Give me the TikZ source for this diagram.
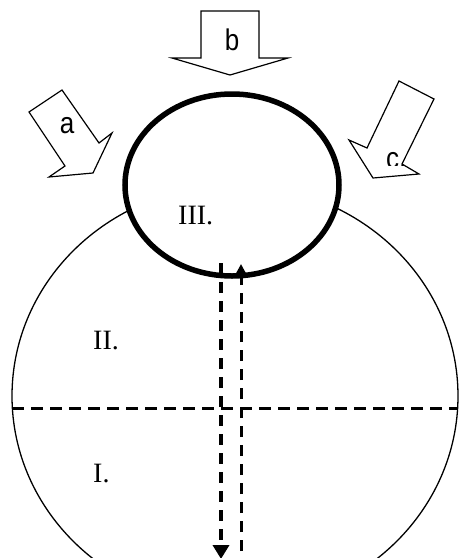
\documentclass[tikz,border=0pt]{standalone}
\usepackage{fontspec}
\setmainfont{Liberation Serif}
\newfontfamily\arialfont{Liberation Sans}
\usetikzlibrary{shapes.geometric,arrows.meta}
\tikzset{
  blockarrow/.style={draw=black, line width=1.2pt, fill=white, line join=miter},
  sflabel/.style={inner sep=0pt, font=\arialfont\fontsize{26}{26}\selectfont},
  rmlabel/.style={inner sep=0pt, anchor=base west, font=\fontsize{28}{28}\selectfont},
  dashline/.style={draw=black, dash pattern=on 11pt off 8pt}
}
\newcommand{\tallsf}[1]{\scalebox{1}[1.15]{#1}}
\begin{document}
\begin{tikzpicture}[x=1pt,y=-1pt]
\useasboundingbox (0,0) rectangle (459,558);
\clip (0,0) rectangle (459,558);
% big outer shape
\node[draw=black, line width=1.3pt, ellipse, minimum width=446pt, minimum height=422pt, inner sep=0pt] (big) at (235,396) {};
% small thick ellipse
\node[draw=black, fill=white, line width=5.5pt, ellipse, minimum width=214pt, minimum height=182pt, inner sep=0pt] (small) at (232,185) {};
% horizontal dashed divider
\coordinate (hl) at (12,408);
\coordinate (hr) at (457,408);
\draw[dashline, line width=3pt, dash pattern=on 12pt off 7pt] (hl) -- (hr);
% vertical dashed arrows
\coordinate (dtop) at (221,263);
\coordinate (dbot) at (221,559);
\coordinate (ubot) at (241,570);
\coordinate (utop) at (241,264);
\draw[dashline, line width=4pt, -{Triangle[length=14pt,width=16pt]}] (dtop) -- (dbot);
\draw[dashline, line width=3pt, -{Triangle[length=11pt,width=11pt]}] (ubot) -- (utop);
% block arrows
\draw[blockarrow] (201,11) -- (259,11) -- (259,58) -- (288,58) -- (230,75) -- (172,58) -- (201,58) -- cycle;
\draw[blockarrow] (29,112) -- (62,90) -- (99,143) -- (112,133) -- (93,173) -- (49,177) -- (65,166) -- cycle;
\draw[blockarrow] (399,81) -- (434,99) -- (402,164) -- (419,174) -- (373,178) -- (349,140) -- (367,148) -- cycle;
% labels
\node[sflabel, anchor=base] (lb) at (232,50) {\tallsf{b}};
\node[sflabel, anchor=base] (la) at (67,133) {\tallsf{a}};
\begin{scope}
\clip (300,0) rectangle (459,165);
\node[sflabel, anchor=base west] (lc) at (386,168) {\tallsf{c.}};
\end{scope}
\node[rmlabel] (l3) at (178,224) {III.};
\node[rmlabel] (l2) at (93,349) {II.};
\node[rmlabel] (l1) at (93,482) {I.};
\end{tikzpicture}
\end{document}
